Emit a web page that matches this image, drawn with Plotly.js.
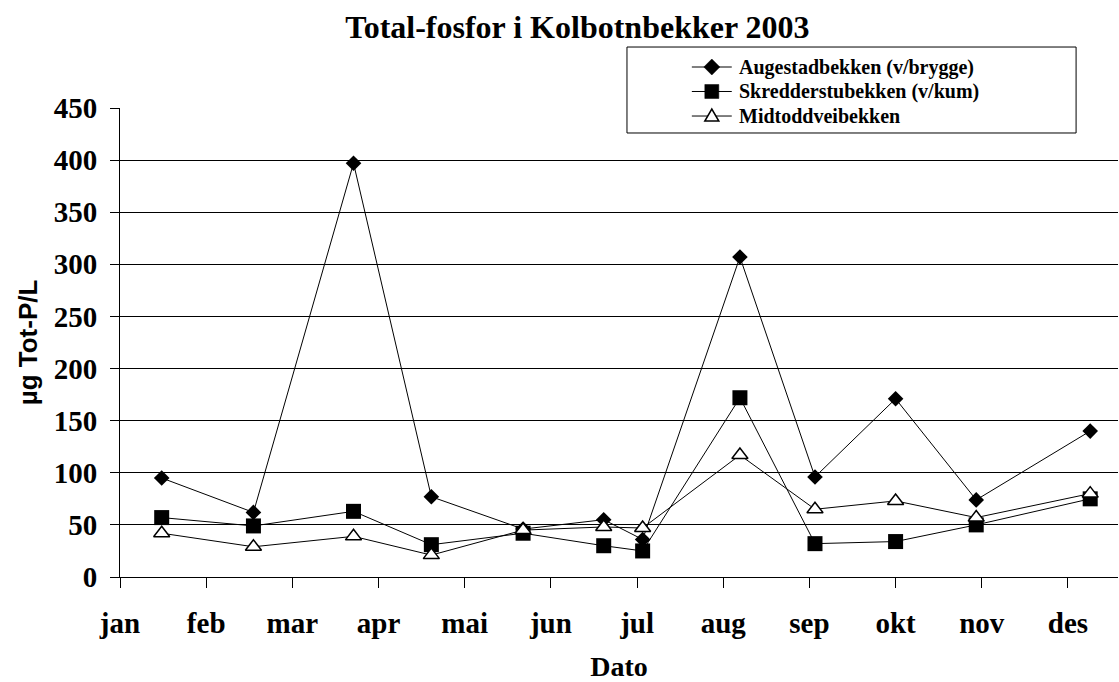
<!DOCTYPE html>
<html>
<head>
<meta charset="utf-8">
<script src="https://cdn.plot.ly/plotly-3.0.1.min.js"></script>
<style>html,body{margin:0;padding:0;background:#fff;}#chart{width:1119px;height:682px;}</style>
</head>
<body>
<div id="chart"></div>
<script>
// Sampling dates (2003)
const dates = ['2003-01-16','2003-02-18','2003-03-26','2003-04-23','2003-05-26','2003-06-24','2003-07-08','2003-08-12','2003-09-08','2003-10-07','2003-11-05','2003-12-16'];
// µg Tot-P/L
const augestad = [95, 62, 397, 77, 46, 55, 36, 307, 96, 171, 74, 140];
const skredderstu = [57, 49, 63, 31, 42, 30, 25, 172, 32, 34, 50, 75];
const midtoddvei = [42, 29, 39, 21, 45, 48, 47, 117, 65, 73, 57, 80];
const seriesNames = ['Augestadbekken (v/brygge)', 'Skredderstubekken (v/kum)', 'Midtoddveibekken'];
// Axis tick positions (31-day steps) and labels
const tickDates = ['2003-01-01','2003-02-01','2003-03-04','2003-04-04','2003-05-05','2003-06-05','2003-07-06','2003-08-06','2003-09-06','2003-10-07','2003-11-07','2003-12-08'];
const tickLabels = ['jan','feb','mar','apr','mai','jun','jul','aug','sep','okt','nov','des'];
const yTicks = [0,50,100,150,200,250,300,350,400,450];

const serif = 'Liberation Serif, Times New Roman, serif';
const line = {color:'#000', width:1};
const traces = [
  {x:dates, y:augestad, name:seriesNames[0], type:'scatter', mode:'lines+markers', line:line,
   marker:{symbol:'diamond', size:12, color:'#000', line:{color:'#000', width:0}}},
  {x:dates, y:skredderstu, name:seriesNames[1], type:'scatter', mode:'lines+markers', line:line,
   marker:{symbol:'square', size:15, color:'#000', line:{color:'#000', width:0}}},
  {x:dates, y:midtoddvei, name:seriesNames[2], type:'scatter', mode:'lines+markers', line:line,
   marker:{symbol:'triangle-up', size:14, color:'#fff', line:{color:'#000', width:1.5}}}
];

// Custom legend (box, keys, text) placed in paper coordinates
const legX0 = 0.508, legX1 = 0.958, legY0 = 0.9467, legY1 = 1.130;
const keyX0 = 0.573, keyX1 = 0.613, keyXm = 0.593, textX = 0.619;
const rowY = [1.0874, 1.0352, 0.9829];
const keyPaths = [
  'M0,8 L8,0 L0,-8 L-8,0 Z',
  'M-7,-7 L7,-7 L7,7 L-7,7 Z',
  'M-7,-5 L7,-5 L0,7 Z'
];
const keyFill = ['#000','#000','#fff'];
const shapes = [{type:'rect', xref:'paper', yref:'paper', x0:legX0, x1:legX1, y0:legY0, y1:legY1,
  fillcolor:'#fff', line:{color:'#000', width:1}, layer:'above'}];
const annotations = [];
seriesNames.forEach((nm, i) => {
  shapes.push({type:'line', xref:'paper', yref:'paper', x0:keyX0, x1:keyX1, y0:rowY[i], y1:rowY[i],
    line:{color:'#000', width:1}, layer:'above'});
  shapes.push({type:'path', xref:'paper', yref:'paper', xsizemode:'pixel', ysizemode:'pixel',
    xanchor:keyXm, yanchor:rowY[i], path:keyPaths[i], fillcolor:keyFill[i],
    line:{color:'#000', width: i===2 ? 1.5 : 0.5}, layer:'above'});
  annotations.push({xref:'paper', yref:'paper', x:textX, y:rowY[i], xanchor:'left', yanchor:'middle',
    text:nm, showarrow:false, borderpad:0, font:{family:serif, size:20, color:'#000', weight:'bold'}});
});

const layout = {
  width:1119, height:682,
  paper_bgcolor:'#fff', plot_bgcolor:'#fff',
  margin:{l:120, r:1, t:108, b:105},
  showlegend:false,
  title:{text:'Total-fosfor i Kolbotnbekker 2003', font:{family:serif, size:32, color:'#000', weight:'bold'}, x:0.516, xanchor:'center', y:0.960, yanchor:'middle'},
  xaxis:{type:'date', range:['2003-01-01','2003-12-26'], tickvals:tickDates, ticktext:tickLabels,
    showgrid:false, zeroline:false, showline:true, linecolor:'#000', linewidth:1, automargin:false,
    ticks:'outside', ticklen:10, tickcolor:'#000', ticklabelstandoff:10,
    tickfont:{family:serif, size:29, color:'#000', weight:'bold'},
    title:{text:'Dato', font:{family:serif, size:28, color:'#000', weight:'bold'}, standoff:34}},
  yaxis:{range:[0,450], tickvals:yTicks, showgrid:true, gridcolor:'#000', gridwidth:1,
    zeroline:false, showline:true, linecolor:'#000', linewidth:1, automargin:false,
    ticks:'outside', ticklen:9, tickcolor:'#000', ticklabelstandoff:7,
    tickfont:{family:serif, size:29, color:'#000', weight:'bold'},
    title:{text:'µg Tot-P/L', font:{family:'Liberation Sans, Arial, sans-serif', size:26, color:'#000', weight:'bold'}, standoff:8}},
  shapes:shapes,
  annotations:annotations
};
Plotly.newPlot('chart', traces, layout, {displayModeBar:false, staticPlot:true});
</script>
</body>
</html>
